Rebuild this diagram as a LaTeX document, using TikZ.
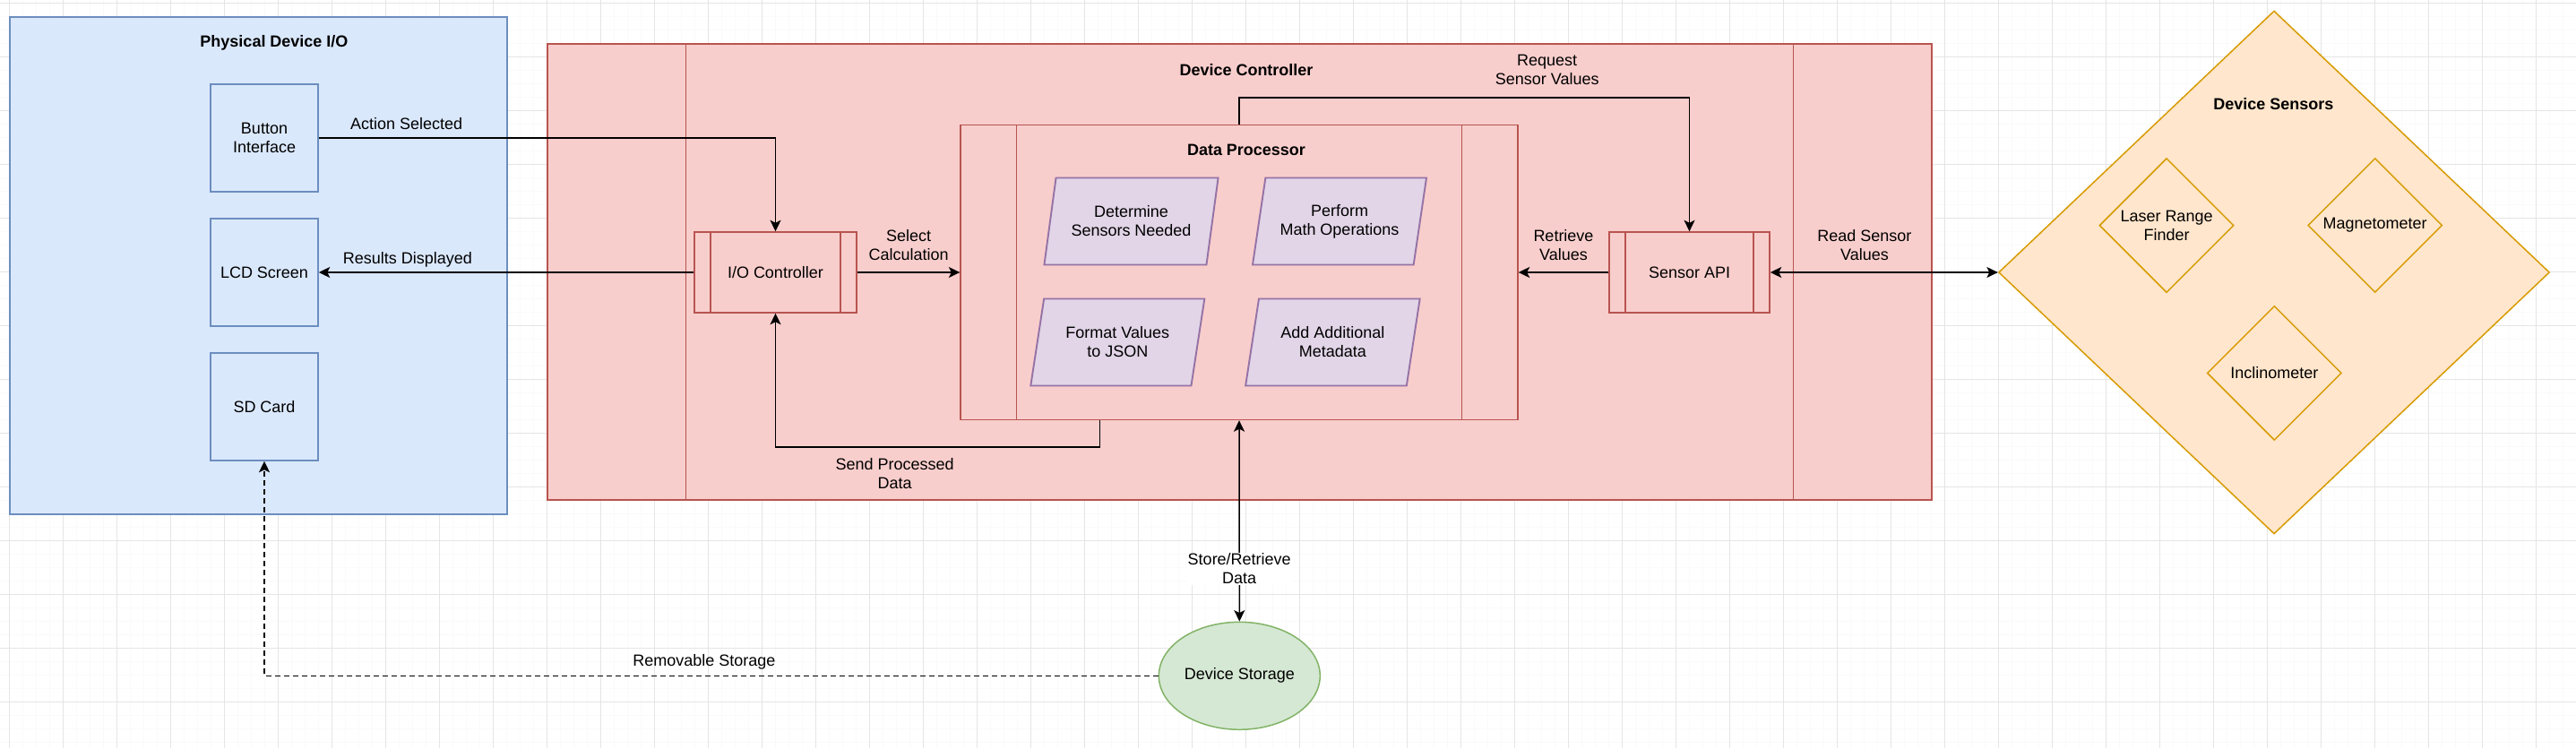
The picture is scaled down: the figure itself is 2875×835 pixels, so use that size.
\documentclass[tikz,border=0pt]{standalone}
\usepackage{fontspec}
\setmainfont{Liberation Sans}
\usetikzlibrary{arrows.meta,shapes.geometric}
\definecolor{bluefill}{HTML}{DAE8FC}
\definecolor{bluedraw}{HTML}{6C8EBF}
\definecolor{redfill}{HTML}{F8CECC}
\definecolor{reddraw}{HTML}{B85450}
\definecolor{purplefill}{HTML}{E1D5E7}
\definecolor{purpledraw}{HTML}{9673A6}
\definecolor{orangefill}{HTML}{FFE6CC}
\definecolor{orangedraw}{HTML}{D79B00}
\definecolor{greenfill}{HTML}{D5E8D4}
\definecolor{greendraw}{HTML}{82B366}
\begin{document}
\begin{tikzpicture}[x=0.02cm,y=-0.02cm,
    every node/.style={font=\fontsize{10.24}{11.95}\selectfont,align=center},
    >={Stealth[length=0.25cm,width=0.24cm,inset=0.06cm]},
    title/.style={font=\fontsize{10.24}{11.95}\selectfont\bfseries},
    iobox/.style={draw=bluedraw,fill=bluefill,line width=0.85pt,minimum width=2.4cm,minimum height=2.4cm,inner sep=0pt},
    procbox/.style={draw=reddraw,fill=redfill,line width=0.85pt,inner sep=0pt,path picture={
        \draw[reddraw,line width=0.85pt] ([xshift=#1]path picture bounding box.north west) -- ([xshift=#1]path picture bounding box.south west);
        \draw[reddraw,line width=0.85pt] ([xshift=-#1]path picture bounding box.north east) -- ([xshift=-#1]path picture bounding box.south east);}},
    task/.style={trapezium,trapezium left angle=73,trapezium right angle=107,trapezium stretches,draw=purpledraw,fill=purplefill,line width=1.1pt,minimum width=3.9cm,minimum height=1.94cm,inner sep=0pt},
    sensor/.style={diamond,draw=orangedraw,fill=orangefill,line width=0.85pt,minimum width=3cm,minimum height=3cm,inner sep=0pt},
    link/.style={line width=0.85pt,->},
    lbl/.style={inner sep=0.5pt},
    majorgrid/.style={gray!20,line width=0.4pt},
    minorgrid/.style={gray!4,line width=0.9pt}]
    \useasboundingbox (0,0) rectangle (2875,835);
    \fill[white] (0,0) rectangle (2875,835);
    \foreach \gx in {-4.5,10.5,...,2870.5} \draw[minorgrid] (\gx,0) -- (\gx,835);
    \foreach \gy in {3.3,18.3,...,828.3} \draw[minorgrid] (0,\gy) -- (2875,\gy);
    \foreach \gx in {10.5,70.5,...,2870.5} \draw[majorgrid] (\gx,0) -- (\gx,835);
    \foreach \gy in {3.3,63.3,...,783.3} \draw[majorgrid] (0,\gy) -- (2875,\gy);

    \node[draw=bluedraw,fill=bluefill,line width=0.85pt,minimum width=11.1cm,minimum height=11.1cm] (physio) at (288.5,296.5) {};
    \node[title] (physiotitle) at (306,47.8) {Physical Device I/O};
    \node[iobox] (btn) at (295,154) {Button\\Interface};
    \node[iobox] (lcd) at (295,304) {LCD Screen};
    \node[iobox] (sd) at (295,454) {SD Card};

    \node[procbox=3.09cm,minimum width=30.9cm,minimum height=10.18cm] (ctrl) at (1383.5,303.5) {};
    \node[title] (ctrltitle) at (1391,78) {Device Controller};
    \node[procbox=1.25cm,minimum width=12.44cm,minimum height=6.58cm] (dproc) at (1383,304) {};
    \node[title] (dproctitle) at (1391,167.8) {Data Processor};
    \node[procbox=0.36cm,minimum width=3.62cm,minimum height=1.8cm] (ioctl) at (865.5,304) {I/O Controller};
    \node[procbox=0.36cm,minimum width=3.58cm,minimum height=1.8cm] (sapi) at (1885.5,304) {Sensor API};
    \node[task] (detect) at (1262.5,247) {Determine\\Sensors Needed};
    \node[task] (mathop) at (1495,247) {Perform\\Math Operations};
    \node[task] (json) at (1247.3,382) {Format Values\\to JSON};
    \node[task] (meta) at (1487.4,382) {Add Additional\\Metadata};

    \node[diamond,draw=orangedraw,fill=orangefill,line width=0.85pt,minimum width=12.3cm,minimum height=11.68cm,inner sep=0pt] (sensors) at (2538,304) {};
    \node[title] (sensorstitle) at (2537.4,115.9) {Device Sensors};
    \node[sensor] (laser) at (2418,251.6) {Laser Range\\Finder};
    \node[sensor] (magnet) at (2650.7,251.5) {Magnetometer};
    \node[sensor] (incline) at (2538.3,416.4) {Inclinometer};

    \node[ellipse,draw=greendraw,fill=greenfill,line width=0.85pt,minimum width=3.6cm,minimum height=2.4cm,inner sep=0pt] (store) at (1383.3,754.3) {Device Storage};

    \draw[link] (btn.east) -| node[lbl,pos=0.096,yshift=0.32cm] {Action Selected} (ioctl.north);
    \draw[link] (ioctl.west) -- node[lbl,pos=0.763,yshift=0.29cm] {Results Displayed} (lcd.east);
    \draw[link] (ioctl.east) -- node[lbl,yshift=0.61cm] {Select\\Calculation} (dproc.west);
    \draw[link] (sapi.west) -- node[lbl,yshift=0.61cm] {Retrieve\\Values} (dproc.east);
    \draw[link,<->] (sapi.east) -- node[lbl,pos=0.414,yshift=0.61cm] {Read Sensor\\Values} (sensors.west);
    \draw[link] (dproc.north) -- ++(0,-30) -| node[lbl,pos=0.342,yshift=0.62cm] {Request\\Sensor Values} (sapi.north);
    \draw[link] ([xshift=-3.11cm]dproc.south) -- ++(0,30) -| node[lbl,pos=0.316,yshift=-0.59cm] {Send Processed\\Data} (ioctl.south);
    \draw[link,<->] (dproc.south) -- node[lbl,pos=0.737,fill=white] {Store/Retrieve\\Data} (store.north);
    \draw[link,dash pattern=on 0.12cm off 0.08cm] (store.west) -| node[lbl,pos=0.254,yshift=0.31cm] {Removable Storage} (sd.south);
\end{tikzpicture}
\end{document}
